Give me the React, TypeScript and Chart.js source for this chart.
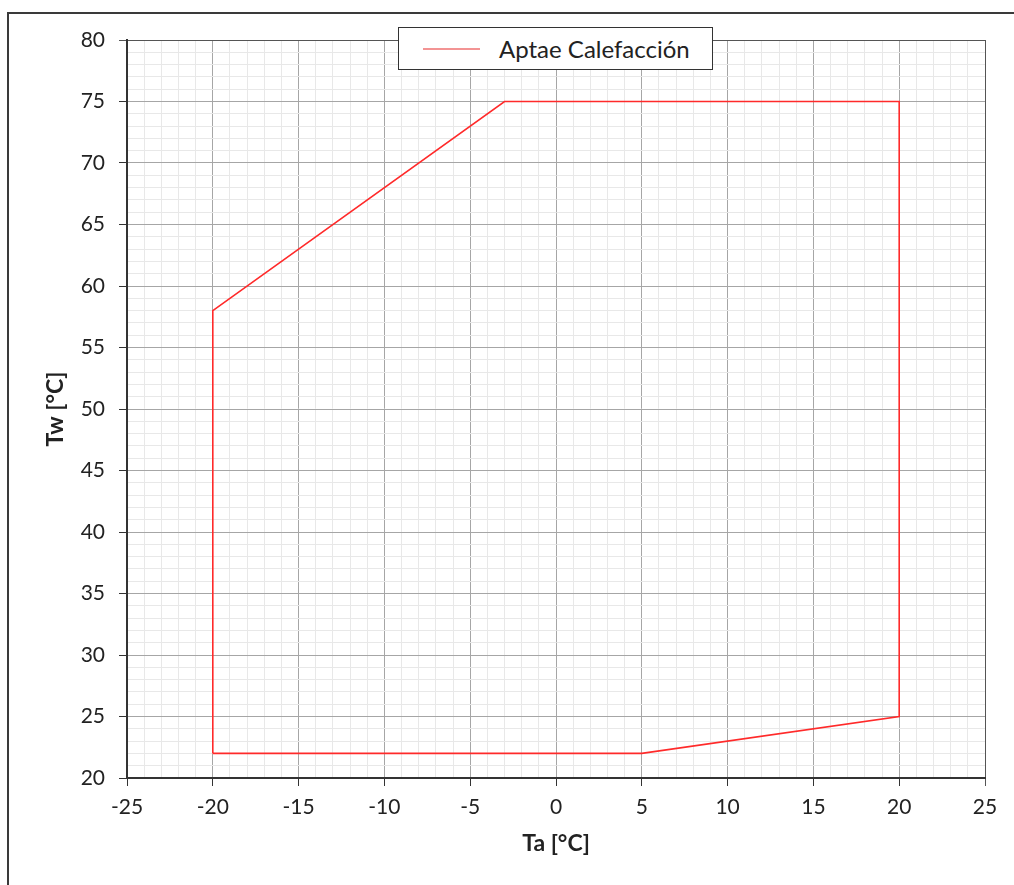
import React, { useEffect, useRef } from "react";
import { Chart, registerables } from "chart.js";

Chart.register(...registerables);

const seriesLabel = "Aptae Calefacción";
const taValues = [-20, -20, -3, 20, 20, 5, -20];
const twValues = [22, 58, 75, 75, 25, 22, 22];
const xTitle = "Ta [°C]";
const yTitle = "Tw [°C]";
const xRange = [-25, 25];
const yRange = [20, 80];

const FONT = "Lato, 'Open Sans', sans-serif";

export default function App() {
  const ref = useRef<HTMLCanvasElement | null>(null);

  useEffect(() => {
    const canvas = ref.current;
    if (!canvas) return;
    const gridColor = (ctx: any, max: number) => {
      const v = ctx.tick ? ctx.tick.value : 0;
      if (v === max) return "#555555";
      return v % 5 === 0 ? "#a6a6a6" : "#e8e8e8";
    };
    const tickColor = (ctx: any, max: number) => {
      const v = ctx.tick ? ctx.tick.value : 0;
      if (v % 5 !== 0) return "rgba(0,0,0,0)";
      return v === max ? "#555555" : "#333333";
    };
    const chart = new Chart(canvas, {
      type: "scatter",
      data: {
        datasets: [
          {
            label: seriesLabel,
            data: taValues.map((x, i) => ({ x, y: twValues[i] })),
            showLine: true,
            borderColor: "#ff2a2a",
            backgroundColor: "#ff2a2a",
            borderWidth: 1.6,
            pointRadius: 0,
            tension: 0,
          },
        ],
      },
      options: {
        animation: false,
        responsive: false,
        maintainAspectRatio: false,
        layout: { padding: { top: 40, right: 29, left: 0, bottom: 0 } },
        plugins: { legend: { display: false }, tooltip: { enabled: false } },
        scales: {
          x: {
            type: "linear",
            min: xRange[0],
            max: xRange[1],
            afterFit: (s: any) => {
              s.height = 107;
            },
            ticks: {
              stepSize: 1,
              autoSkip: false,
              maxRotation: 0,
              padding: 9,
              color: "#222222",
              font: { family: FONT, size: 21 },
              callback: (v: any) => (Number(v) % 5 === 0 ? String(v) : ""),
            },
            grid: {
              color: (c: any) => gridColor(c, xRange[1]),
              tickColor: (c: any) => tickColor(c, xRange[1]),
              tickLength: 8,
              lineWidth: 1,
            },
            border: { color: "#333333", width: 2 },
            title: {
              display: true,
              text: xTitle,
              color: "#222222",
              font: { family: FONT, size: 23, weight: "bold" },
              padding: { top: 0, bottom: 28 },
            },
          },
          y: {
            type: "linear",
            min: yRange[0],
            max: yRange[1],
            afterFit: (s: any) => {
              s.width = 127;
            },
            ticks: {
              stepSize: 1,
              autoSkip: false,
              padding: 14,
              color: "#222222",
              font: { family: FONT, size: 21 },
              callback: (v: any) => (Number(v) % 5 === 0 ? String(v) : ""),
            },
            grid: {
              color: (c: any) => gridColor(c, yRange[1]),
              tickColor: (c: any) => tickColor(c, yRange[1]),
              tickLength: 8,
              lineWidth: 1,
            },
            border: { color: "#333333", width: 2 },
            title: {
              display: true,
              text: yTitle,
              color: "#222222",
              font: { family: FONT, size: 23, weight: "bold" },
              padding: { top: 42, bottom: 0 },
            },
          },
        },
      },
    });
    return () => chart.destroy();
  }, []);

  return (
    <div style={{ position: "fixed", left: 0, top: 0, width: 1014, height: 885, overflow: "hidden", background: "#fff" }}>
      <div
        style={{
          position: "absolute",
          left: 7,
          top: 12,
          width: 1100,
          height: 1000,
          borderTop: "2px solid #3a3a3a",
          borderLeft: "2px solid #3a3a3a",
        }}
      />
      <canvas ref={ref} width={1014} height={885} style={{ position: "absolute", left: 0, top: 0 }} />
      <div
        style={{
          position: "absolute",
          left: 398,
          top: 27,
          width: 313,
          height: 41,
          border: "1.5px solid #333",
          background: "#fff",
          fontFamily: FONT,
        }}
      >
        <div style={{ position: "absolute", left: 24, top: 20, width: 57, height: 2, background: "#f39494" }} />
        <div
          style={{
            position: "absolute",
            left: 100,
            top: 0,
            height: 41,
            lineHeight: "41px",
            fontSize: 24,
            color: "#222",
            whiteSpace: "nowrap",
          }}
        >
          {seriesLabel}
        </div>
      </div>
    </div>
  );
}
